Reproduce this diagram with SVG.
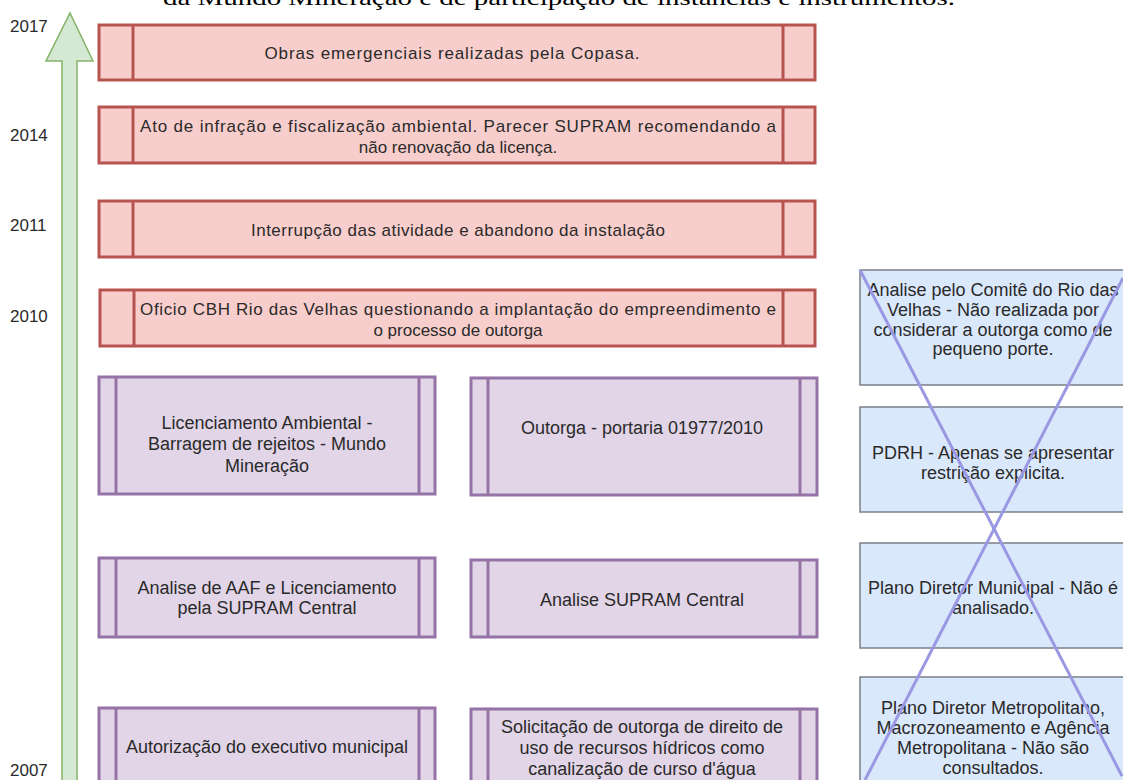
<svg xmlns="http://www.w3.org/2000/svg" width="1123" height="780" viewBox="0 0 1123 780">
<style>
text{font-family:"Liberation Sans",Arial,sans-serif;font-size:18px;fill:#2a2a2a;text-anchor:middle}
.red text{font-size:17px}
.cap{font-family:"Liberation Serif","Times New Roman",serif;font-size:22px;fill:#000;text-anchor:start}
.yr{text-anchor:start;font-size:17px}
.red rect{fill:#f8cecc;stroke:#b85450;stroke-width:3}
.red line{stroke:#b85450;stroke-width:3}
.pur rect{fill:#e1d5e7;stroke:#9673a6;stroke-width:3}
.pur line{stroke:#9673a6;stroke-width:3}
.blue rect{fill:#dae8fc;stroke:#7a7f88;stroke-width:1.5}
.x line{stroke:#9a98e2;stroke-width:3}
</style>
<rect width="1123" height="780" fill="#fff"/>
<text class="cap" x="163" y="5" textLength="792" lengthAdjust="spacingAndGlyphs">da Mundo Mineração e de participação de instâncias e instrumentos.</text>

<g id="timeline">
<polygon points="70,13 93,61 77,61 77,790 62,790 62,61 46,61" fill="#d5e8d4" stroke="#82b366" stroke-width="1.5"/>
<text class="yr" x="10" y="32">2017</text>
<text class="yr" x="10" y="141">2014</text>
<text class="yr" x="10" y="231">2011</text>
<text class="yr" x="10" y="322">2010</text>
<text class="yr" x="10" y="776">2007</text>
</g>

<g id="r1" class="red"><rect x="99" y="25" width="716" height="55"/><line x1="133" y1="25" x2="133" y2="80"/><line x1="783" y1="25" x2="783" y2="80"/>
<text x="452" y="59" textLength="375">Obras emergenciais realizadas pela Copasa.</text></g>
<g id="r2" class="red"><rect x="99" y="107" width="716" height="56"/><line x1="133" y1="107" x2="133" y2="163"/><line x1="783" y1="107" x2="783" y2="163"/>
<text x="458" y="132" textLength="636">Ato de infração e fiscalização ambiental. Parecer SUPRAM recomendando a</text>
<text x="458" y="153">não renovação da licença.</text></g>
<g id="r3" class="red"><rect x="99" y="201" width="716" height="56"/><line x1="133" y1="201" x2="133" y2="257"/><line x1="783" y1="201" x2="783" y2="257"/>
<text x="458" y="236" textLength="414">Interrupção das atividade e abandono da instalação</text></g>
<g id="r4" class="red"><rect x="100" y="290" width="715" height="56"/><line x1="134" y1="290" x2="134" y2="346"/><line x1="783" y1="290" x2="783" y2="346"/>
<text x="458" y="315" textLength="636">Oficio CBH Rio das Velhas questionando a implantação do empreendimento e</text>
<text x="458" y="336">o processo de outorga</text></g>

<g id="p1" class="pur"><rect x="99" y="377" width="336" height="117"/><line x1="116" y1="377" x2="116" y2="494"/><line x1="419" y1="377" x2="419" y2="494"/>
<text x="267" y="429">Licenciamento Ambiental -</text><text x="267" y="450">Barragem de rejeitos - Mundo</text><text x="267" y="472">Mineração</text></g>
<g id="p2" class="pur"><rect x="471" y="378" width="346" height="117"/><line x1="488" y1="378" x2="488" y2="495"/><line x1="800" y1="378" x2="800" y2="495"/>
<text x="642" y="434">Outorga - portaria 01977/2010</text></g>
<g id="p3" class="pur"><rect x="99" y="558" width="336" height="79"/><line x1="116" y1="558" x2="116" y2="637"/><line x1="419" y1="558" x2="419" y2="637"/>
<text x="267" y="594">Analise de AAF e Licenciamento</text><text x="267" y="614">pela SUPRAM Central</text></g>
<g id="p4" class="pur"><rect x="471" y="560" width="346" height="77"/><line x1="488" y1="560" x2="488" y2="637"/><line x1="800" y1="560" x2="800" y2="637"/>
<text x="642" y="606">Analise SUPRAM Central</text></g>
<g id="p5" class="pur"><rect x="99" y="708" width="336" height="100"/><line x1="116" y1="708" x2="116" y2="808"/><line x1="419" y1="708" x2="419" y2="808"/>
<text x="267" y="753">Autorização do executivo municipal</text></g>
<g id="p6" class="pur"><rect x="471" y="709" width="346" height="100"/><line x1="488" y1="709" x2="488" y2="809"/><line x1="800" y1="709" x2="800" y2="809"/>
<text x="642" y="733">Solicitação de outorga de direito de</text><text x="642" y="754">uso de recursos hídricos como</text><text x="642" y="775">canalização de curso d'água</text></g>

<g id="b1" class="blue"><rect x="860" y="270" width="280" height="115"/>
<text x="993" y="296">Analise pelo Comitê do Rio das</text><text x="993" y="316">Velhas - Não realizada por</text><text x="993" y="336">considerar a outorga como de</text><text x="993" y="355">pequeno porte.</text></g>
<g id="b2" class="blue"><rect x="860" y="407" width="280" height="105"/>
<text x="993" y="459">PDRH - Apenas se apresentar</text><text x="993" y="479">restrição explicita.</text></g>
<g id="b3" class="blue"><rect x="860" y="543" width="280" height="105"/>
<text x="993" y="594">Plano Diretor Municipal - Não é</text><text x="993" y="614">analisado.</text></g>
<g id="b4" class="blue"><rect x="860" y="677" width="280" height="130"/>
<text x="993" y="714">Plano Diretor Metropolitano,</text><text x="993" y="734">Macrozoneamento e Agência</text><text x="993" y="754">Metropolitana - Não são</text><text x="993" y="774">consultados.</text></g>

<g id="connectors" class="x">
<line x1="860" y1="270" x2="1122" y2="776"/>
<line x1="1123" y1="278" x2="865" y2="780"/>
</g>
</svg>
